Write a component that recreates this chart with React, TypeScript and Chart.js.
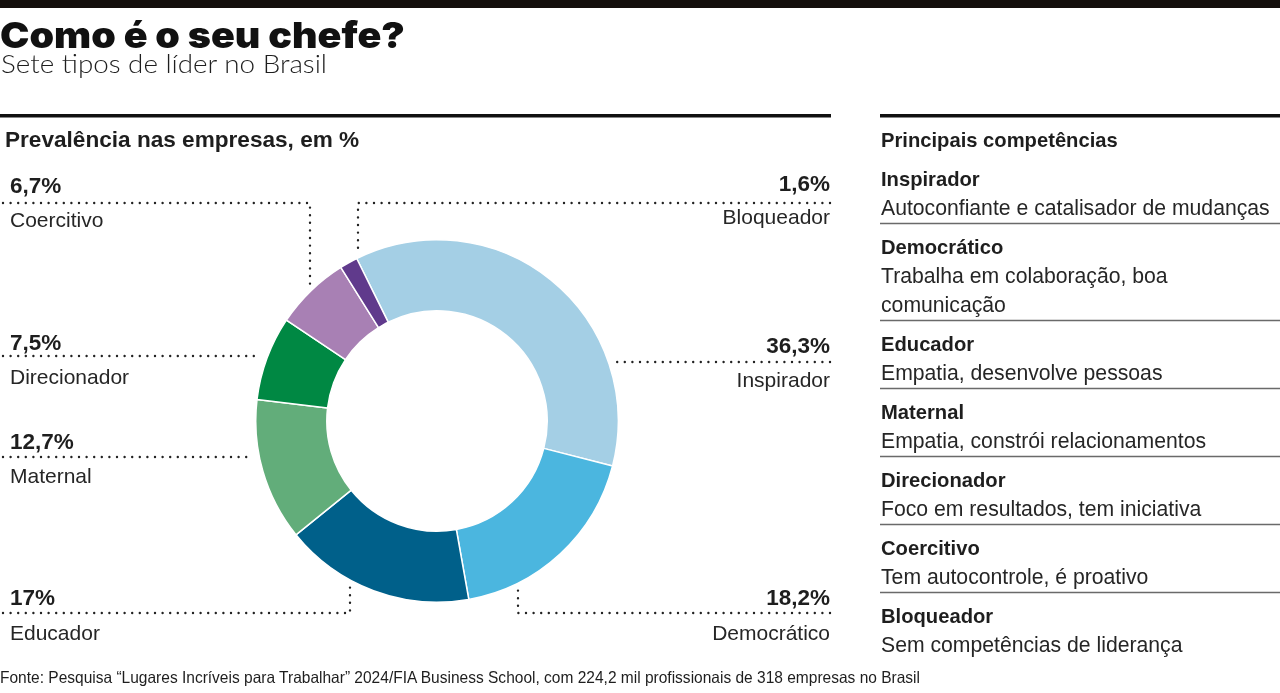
import React, { useEffect, useRef } from "react";
import { Chart, registerables } from "chart.js";

Chart.register(...registerables);

const categories = ["Inspirador", "Democrático", "Educador", "Maternal", "Direcionador", "Coercitivo", "Bloqueador"];
const values = [36.3, 18.2, 17, 12.7, 7.5, 6.7, 1.6];
const percentLabels = ["36,3%", "18,2%", "17%", "12,7%", "7,5%", "6,7%", "1,6%"];
const colors = ["#a4cfe5", "#4bb6df", "#00608a", "#62ad7a", "#008843", "#a880b4", "#603a8c"];
const competencies = [
  ["Autoconfiante e catalisador de mudanças"],
  ["Trabalha em colaboração, boa", "comunicação"],
  ["Empatia, desenvolve pessoas"],
  ["Empatia, constrói relacionamentos"],
  ["Foco em resultados, tem iniciativa"],
  ["Tem autocontrole, é proativo"],
  ["Sem competências de liderança"],
];

const TITLE = "Como é o seu chefe?";
const SUBTITLE = "Sete tipos de líder no Brasil";
const LEFT_HEADER = "Prevalência nas empresas, em %";
const RIGHT_HEADER = "Principais competências";
const SOURCE = "Fonte: Pesquisa “Lugares Incríveis para Trabalhar” 2024/FIA Business School, com 224,2 mil profissionais de 318 empresas no Brasil";

// label layout (per category index): side, pct baseline, name baseline, leader path
const labelLayout: { side: "L" | "R"; pctY: number; nameY: number; path: string }[] = [
  { side: "R", pctY: 353, nameY: 387, path: "M830 362 H610" },
  { side: "R", pctY: 605, nameY: 640, path: "M830 613 H518 V587" },
  { side: "L", pctY: 605, nameY: 640, path: "M3 613 H350 V587" },
  { side: "L", pctY: 449, nameY: 483, path: "M3 457 H250" },
  { side: "L", pctY: 350, nameY: 384, path: "M3 356 H260" },
  { side: "L", pctY: 193, nameY: 227, path: "M3 203 H310 V284" },
  { side: "R", pctY: 191, nameY: 224, path: "M830 203 H358 V253" },
];

const FONT = "'Liberation Sans', Arial, sans-serif";
const TEXT = "#1e1e1e";

function Donut() {
  const ref = useRef<HTMLCanvasElement | null>(null);
  useEffect(() => {
    if (!ref.current) return;
    const chart = new Chart(ref.current, {
      type: "doughnut",
      data: {
        labels: categories,
        datasets: [
          {
            data: values,
            backgroundColor: colors,
            borderColor: "#ffffff",
            borderWidth: 1.5,
          },
        ],
      },
      options: {
        animation: false,
        responsive: false,
        rotation: -26.3,
        cutout: "60.8%",
        plugins: { legend: { display: false }, tooltip: { enabled: false } },
        layout: { padding: 0 },
      },
    });
    return () => chart.destroy();
  }, []);
  return (
    <canvas
      ref={ref}
      width={364}
      height={364}
      style={{ position: "absolute", left: 255, top: 239, width: 364, height: 364 }}
    />
  );
}

export default function App() {
  const rows: React.ReactNode[] = [];
  let s = 155;
  competencies.forEach((lines, i) => {
    const nameY = s + 31;
    rows.push(
      <text key={"n" + i} x={881} y={nameY} fontFamily={FONT} fontWeight={700} fontSize={20.2} fill={TEXT}>
        {categories[i]}
      </text>
    );
    let last = 0;
    lines.forEach((ln, k) => {
      last = s + 60 + 29 * k;
      rows.push(
        <text key={"d" + i + "_" + k} x={881} y={last} fontFamily={FONT} fontSize={21.2} fill="#262626">
          {ln}
        </text>
      );
    });
    const sep = last + 8;
    if (i < competencies.length - 1) {
      rows.push(<line key={"s" + i} x1={880} x2={1280} y1={sep + 0.5} y2={sep + 0.5} stroke="#6a6a6a" strokeWidth={1.3} />);
    }
    s = sep;
  });

  return (
    <div style={{ position: "fixed", left: 0, top: 0, width: 1280, height: 693, background: "#fff", overflow: "hidden" }}>
      <Donut />
      <svg width={1280} height={693} style={{ position: "absolute", left: 0, top: 0, pointerEvents: "none" }}>
        <rect x={0} y={0} width={1280} height={8} fill="#140f0c" />
        <text x={0} y={48} fontFamily="Inter, 'Liberation Sans', sans-serif" fontWeight={900} fontSize={36} fill="#111" textLength={405} lengthAdjust="spacingAndGlyphs">
          {TITLE}
        </text>
        <text x={1} y={73} fontFamily="Lato, 'Liberation Sans', sans-serif" fontWeight={300} fontSize={25.5} fill={TEXT} textLength={326} lengthAdjust="spacingAndGlyphs">
          {SUBTITLE}
        </text>
        <rect x={0} y={114} width={831} height={3.5} fill="#111" />
        <rect x={880} y={114} width={400} height={3.5} fill="#111" />
        <text x={5} y={147} fontFamily={FONT} fontWeight={700} fontSize={22.6} fill={TEXT}>
          {LEFT_HEADER}
        </text>
        <text x={881} y={147} fontFamily={FONT} fontWeight={700} fontSize={20.2} fill={TEXT}>
          {RIGHT_HEADER}
        </text>
        {rows}
        {labelLayout.map((l, i) => {
          const x = l.side === "L" ? 10 : 830;
          const anchor = l.side === "L" ? "start" : "end";
          return (
            <g key={"lab" + i}>
              <path d={l.path} stroke="#222" strokeWidth={2.4} strokeDasharray="0 7.6" strokeLinecap="round" fill="none" />
              <text x={x} y={l.pctY} textAnchor={anchor} fontFamily={FONT} fontWeight={700} fontSize={22.5} fill={TEXT}>
                {percentLabels[i]}
              </text>
              <text x={x} y={l.nameY} textAnchor={anchor} fontFamily={FONT} fontSize={21} fill="#262626">
                {categories[i]}
              </text>
            </g>
          );
        })}
        <text x={0} y={683} fontFamily={FONT} fontSize={16.5} fill={TEXT} textLength={920} lengthAdjust="spacingAndGlyphs">
          {SOURCE}
        </text>
      </svg>
    </div>
  );
}
